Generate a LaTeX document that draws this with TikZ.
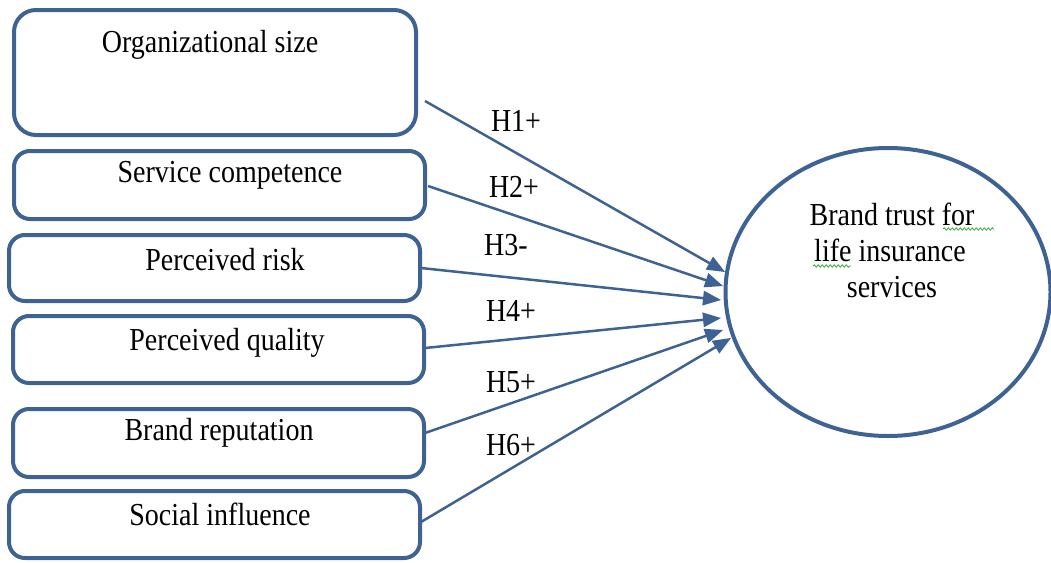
\documentclass[tikz,border=0pt]{standalone}
\usepackage{fontspec}
\setmainfont{Liberation Serif}[FakeStretch=0.875]
\usetikzlibrary{shapes.geometric,decorations.pathmorphing,decorations.markings}
\definecolor{lineblue}{RGB}{62,98,148}
\definecolor{wavegreen}{RGB}{60,170,60}
\begin{document}
\begin{tikzpicture}[x=1pt,y=1pt,
  box/.style={draw=lineblue, line width=4pt, rounded corners=16pt, inner sep=0pt},
  lbl/.style={inner sep=0pt, font=\fontsize{32}{36}\selectfont},
  hyp/.style={inner sep=0pt, font=\fontsize{32}{36}\selectfont},
  conn/.style={draw=lineblue, line width=2.5pt, shorten >=6pt,
    postaction={decorate, decoration={markings,
      mark=at position 1 with {\fill[lineblue] (0pt,0pt) -- (-18pt,7.5pt) -- (-18pt,-7.5pt) -- cycle;}}}},
  wavy/.style={draw=wavegreen, line width=0.8pt, decorate, decoration={snake, amplitude=1.2pt, segment length=4pt}}]
\useasboundingbox (0,0) rectangle (1051,-562);
% boxes
\node[box, rounded corners=22pt, minimum width=402pt, minimum height=125pt] (b1) at (215,-72.5) {};
\node[box, minimum width=411pt, minimum height=68pt] (b2) at (219.5,-185) {};
\node[box, minimum width=411pt, minimum height=66pt] (b3) at (214.5,-268) {};
\node[box, minimum width=411pt, minimum height=67pt] (b4) at (218.5,-349.5) {};
\node[box, minimum width=411pt, minimum height=68pt] (b5) at (218.5,-443) {};
\node[box, minimum width=411pt, minimum height=67pt] (b6) at (214.5,-524.5) {};
% box texts
\node[lbl, anchor=base] (t1) at (210,-52) {Organizational size};
\node[lbl, anchor=base] (t2) at (230,-182) {Service competence};
\node[lbl, anchor=base] (t3) at (225,-270) {Perceived risk};
\node[lbl, anchor=base] (t4) at (227,-350) {Perceived quality};
\node[lbl, anchor=base] (t5) at (219,-440) {Brand reputation};
\node[lbl, anchor=base] (t6) at (220,-525) {Social influence};
% ellipse
\node[ellipse, draw=lineblue, line width=4pt, minimum width=325pt, minimum height=288pt, inner sep=0pt] (bt) at (888,-292) {};
\node[lbl, anchor=base] (et1) at (892,-225) {Brand trust for};
\node[lbl, anchor=base] (et2) at (890,-261) {life insurance};
\node[lbl, anchor=base] (et3) at (892,-297) {services};
\draw[wavy] (943,-229) -- (994,-229);
\draw[wavy] (813,-266) -- (851,-266);
% connector coordinates
\coordinate (s1) at (425,-101);
\coordinate (s2) at (428,-186);
\coordinate (s3) at (421,-268);
\coordinate (s4) at (425,-348);
\coordinate (s5) at (425,-433);
\coordinate (s6) at (421,-522);
\coordinate (e1) at (725,-272);
\coordinate (e2) at (723,-286);
\coordinate (e3) at (721,-300);
\coordinate (e4) at (721,-318);
\coordinate (e5) at (723,-330);
\coordinate (e6) at (731,-338);
\draw[conn] (s1) -- (e1);
\draw[conn] (s2) -- (e2);
\draw[conn] (s3) -- (e3);
\draw[conn] (s4) -- (e4);
\draw[conn] (s5) -- (e5);
\draw[conn] (s6) -- (e6);
% hypothesis labels
\node[hyp, anchor=base] (h1) at (516,-131) {H1+};
\node[hyp, anchor=base] (h2) at (514,-197) {H2+};
\node[hyp, anchor=base] (h3) at (506,-255) {H3-};
\node[hyp, anchor=base] (h4) at (511,-321) {H4+};
\node[hyp, anchor=base] (h5) at (511,-392) {H5+};
\node[hyp, anchor=base] (h6) at (511,-455) {H6+};
\end{tikzpicture}
\end{document}
